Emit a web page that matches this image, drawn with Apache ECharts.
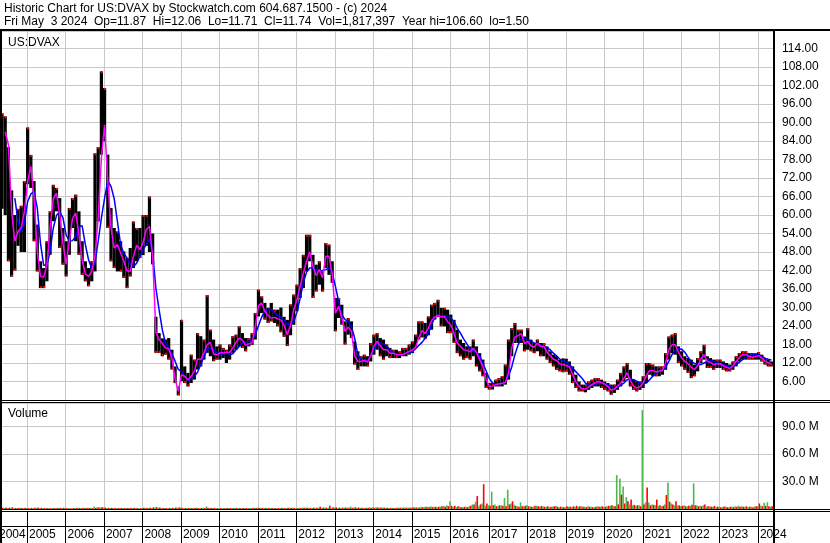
<!DOCTYPE html>
<html><head><meta charset="utf-8">
<script src="https://cdn.jsdelivr.net/npm/echarts/dist/echarts.min.js"></script>
<style>html,body{margin:0;padding:0;background:#fff}#c{width:830px;height:543px}</style>
</head><body><div id="c"></div>
<script>
// ---- data (monthly, first point = May 2004) ----
const T0 = 2004.35, T1 = 2024.392;
const years = [2004,2005,2006,2007,2008,2009,2010,2011,2012,2013,2014,2015,2016,2017,2018,2019,2020,2021,2022,2023,2024];
const priceHigh = [
93,92,82,68,60,62,63,71,88.4,79.5,
71,56.9,45,42.8,51.5,61.2,69.8,68.8,65.5,55.8,
51.5,62.3,65.5,66.6,61.2,51.5,45,42.8,45,80,
82,106.6,101.2,79.6,62.3,55.8,54.7,51.5,48.2,46.1,
49.3,57.9,55.8,55.8,60,60,66,54,27,21.7,
20,19.6,20.1,16.3,10.9,4.4,26,10.9,8.8,14.7,
13.1,21.7,20.7,19.6,34,22.8,19.6,17.4,18,16.9,
16.3,18,20.7,21.2,23.9,21.7,20.1,20.1,21.7,28.2,
35.8,33.6,31.5,29.9,31.5,29.3,29.3,30,27,26,
31,34.2,37.4,42.8,47.1,53.6,53.6,47.1,43.9,45,
41.7,50.9,50.4,45,33.1,33.1,30.9,25.5,26.6,25.5,
19,15.8,14.2,14.7,14.2,18.5,21.2,21.7,20.1,19.6,
18,16.9,16.3,16.3,15.8,16.9,16.9,18,19,21.2,
25.5,25.5,25,27.1,30.9,31.5,32.5,29.9,29.9,29.3,
27.7,26,22.8,19.6,18.5,17.4,17.4,19.6,17.4,15.2,
13.1,8.8,5.5,5.5,6.6,7.1,7.7,11.5,19.6,23.3,
25,22.8,22.8,20.6,23.3,19.6,18.5,19.6,18.5,18.5,
17.4,15.8,14.7,14.2,13.1,13.5,13.4,12.5,10.9,8.2,
6.0,5.0,5.0,6.0,6.6,7.1,7.1,6.6,6.0,5.5,
5.0,5.0,6.6,8.8,10.9,12.0,9.8,6.6,6.0,6.0,
7.7,12.0,12.0,11.5,10.9,10.9,10.9,15.2,20.6,21.2,
21.7,17.4,15.8,14.2,13.6,13.1,11.5,13.6,15.8,17.9,
14.2,13.6,13.1,13.1,13.1,12.5,12.0,11.5,12.5,14.2,
15.2,15.8,15.8,15.2,15.2,15.2,15.5,14.7,13.6,13.1,12.5];
const priceLow = [
62,60,45,40,42,50,48,48,70,68.8,
51.5,41.7,36.3,36.3,38.5,47.1,58,61.2,49.3,43.9,
40.1,47.1,55.8,51.5,47.1,40.6,38.5,36.9,38.5,41.7,
57.9,79.6,83.9,55.8,45,42.8,41.7,41.7,39.6,36.3,
40.1,42.8,45,46.1,47,50,48,44,15.3,15.3,
14.2,14.7,13.1,9.9,5.5,1.5,6.1,5.5,4.4,5.5,
6.6,9.9,10.9,13.1,15.3,14.2,12.6,13.1,13.1,13.6,
12.0,13.1,15.3,16.3,17.4,16.9,15.8,17.4,17.9,19.6,
27.1,28.2,26.1,25.0,25.5,25.0,23.9,22,20.5,17.5,
21,24.4,28.8,33.1,36.3,41.7,45,33.1,35.2,37.4,
35.2,42.8,40.6,38,22.3,26.6,24.4,18,21.2,20.1,
11.5,9.8,10.9,10.9,10.9,12.5,14.7,16.3,14.2,13.1,
14.2,13.6,13.6,13.6,13.6,14.2,14.2,14.7,15.2,16.9,
19.6,20.3,19.8,21,22.8,26.1,27.1,23.9,23.9,21.7,
21.7,18.5,15.2,14.2,13.1,13.6,13.1,14.2,10.9,9.3,
7.7,3.9,3.4,3.4,4.4,4.4,4.4,5.0,6.6,14.2,
18.5,18.5,18.5,15.8,16.3,15.8,15.2,15.8,14.2,14.2,
13.1,12.0,10.9,9.8,9.3,9.0,9.2,8.2,5.5,3.9,
2.8,2.8,2.5,3.3,3.9,4.4,4.4,3.9,3.3,2.8,
1.7,2.3,3.3,4.4,6.0,7.1,4.4,3.3,2.8,3.3,
3.9,5.5,8.2,7.7,7.7,7.7,8.2,9.8,13.1,15.2,
14.7,12.0,10.9,9.8,8.8,7.1,7.7,9.3,12.0,13.1,
10.4,10.4,9.8,10.4,10.4,9.8,9.3,9.3,9.8,10.9,
12.5,13.1,13.1,13.1,13.1,13.1,13.1,12.5,11.5,10.9,10.9];
const maShort = [
null,87,82.8,61.2,51.5,54.7,55.8,61.2,70.9,75.8,
65.5,48.2,40.1,39.8,43.9,55.8,65.3,67.1,60.1,50.9,
44.1,51.5,59.0,60.6,53.6,45.5,40.9,40.1,41.7,47,
59.0,78.5,89.3,70.9,55.8,49.3,50.4,47.7,45.0,41.9,
41.7,46.6,50.2,48.8,51,55.3,56.3,46.6,22.0,19.6,
18.3,16.9,16.6,13.6,6.8,2.8,8.2,7.7,6.5,7.7,
9.3,13.3,13.1,15.3,18.0,18.7,15.0,14.6,15.3,15.3,
15.5,15.5,16.9,18.7,20.1,19.4,17.7,18.2,18.5,23.7,
30.6,31.5,28.8,27.4,26.6,26.8,26.3,25.9,24.2,21.2,
24.2,29.3,32.5,36.9,41.2,45.0,48.0,43.3,40.4,42.3,
39.6,46.6,46.6,40.9,28.2,30.4,26.6,22.3,23.6,22.3,
14.2,12.5,12.5,12.9,12.3,14.2,17.4,19.0,17.6,16.3,
16.3,15.2,15.2,14.7,14.7,14.7,15.2,15.8,16.2,17.1,
20.1,22.5,21.5,23.3,25.8,26.9,27.5,26.9,27.1,25.4,
24.3,21.6,18.5,17.4,16.3,16.1,15.6,16.8,15.5,13.1,
10.9,6.6,4.4,4.5,5.0,5.2,5.4,5.7,8.8,16.9,
20.4,20.9,21.5,18.3,19.0,17.6,17.1,18.5,17.4,17.4,
15.5,14.4,13.2,12.8,11.7,11.5,11.2,10.7,8.4,5.8,
4.4,3.6,3.6,4.2,5.0,5.6,6.0,5.7,5.2,4.4,
3.2,3.5,4.5,5.5,7.1,8.8,6.3,4.5,3.9,4.3,
5.5,7.9,9.6,9.6,9.1,9.3,9.6,12.0,16.3,17.9,
17.9,15.5,13.6,12.5,11.7,10.7,9.8,11.1,13.3,14.7,
12.5,12.2,11.5,11.7,11.8,11.1,10.6,10.2,11.1,12.5,
13.8,14.7,14.7,14.2,13.9,14.0,14.4,13.6,12.6,12.1,11.7];
const maLong = [
null,null,null,null,65.5,57.9,54.4,57.4,64.4,66.8,
67.7,62.3,50.9,43.7,43.7,48.2,55.8,59.9,61.0,59.2,
53.6,51.5,51.7,53.1,56.3,56.5,50.4,45.5,42.6,44.4,
51.5,59.0,65.5,71.1,69.3,65.3,57.9,50.4,47.5,46.1,
44.1,43.3,44.4,46.6,48.8,50.4,52.3,47.7,36.3,29.3,
22.8,18.5,16.9,15.0,12.6,9.9,9.2,7.5,6.3,6.9,
7.7,9.0,11.5,14.0,16.3,16.9,16.3,15.3,14.9,14.9,
15.3,14.7,15.0,16.3,17.4,18.5,18.8,19.0,19.4,21.2,
24.1,26.9,28.8,29.5,29.3,28.2,27.5,26.8,25.8,24.5,
24.7,25.3,28.5,33.0,38.0,41.5,42.8,42.8,42.2,41.7,
42.0,42.3,42.8,41.2,36.9,32.0,27.7,26.1,25.5,23.9,
20.1,14.7,13.1,12.5,12.9,14.2,16.3,18.2,18.5,18.2,
17.5,16.3,15.3,14.9,14.7,14.9,15.2,15.2,15.7,16.6,
17.7,18.7,20.0,21.5,24.5,26.8,27.3,27.1,27.3,27.1,
26.6,25.5,23.3,21.7,19.8,18.2,16.5,15.9,15.3,14.4,
11.8,9.5,7.0,5.5,5.0,5.1,5.4,5.7,7.7,10.7,
14.7,17.9,19.8,20.1,19.5,19.0,18.5,18.2,17.9,17.4,
16.9,16.3,15.2,14.3,13.3,12.6,12.2,11.6,10.3,9.2,
8.1,7.0,5.5,4.8,4.8,5.1,5.5,5.4,5.2,4.9,
4.4,3.9,4.1,4.9,5.5,6.6,6.8,6.6,6.1,5.5,
5.3,5.5,6.6,7.7,8.6,9.3,9.8,10.7,12.5,14.7,
16.1,16.6,16.5,15.5,13.9,12.5,11.9,11.5,11.5,12.0,
12.5,12.8,12.5,12.0,11.7,11.5,11.2,10.9,10.9,11.5,
12.3,13.1,13.8,14.4,14.6,14.7,14.6,14.2,13.6,13.2,13.0];
// volume in millions: up-week and down-week peaks per month
const volUp = [
1.5,1.2,1.0,1.3,0.9,1.1,1.4,1.0,1.2,0.9,
1.1,1.3,1.0,0.8,1.2,1.0,1.1,0.9,1.3,1.0,
1.2,1.0,0.9,1.1,1.4,1.0,1.2,1.5,1.3,2.6,
2.2,1.8,1.5,1.2,1.0,1.1,0.9,1.2,1.0,1.1,
1.3,1.0,1.2,0.9,1.1,1.4,1.2,1.0,1.5,1.2,
1.0,1.1,0.9,1.0,1.2,1.4,1.8,1.1,1.0,1.3,
1.2,1.5,1.1,1.3,2.8,1.2,1.0,1.1,0.9,1.0,
1.2,1.0,1.1,1.3,1.0,0.9,1.1,1.2,1.0,1.4,
1.6,1.3,1.1,1.0,1.2,1.1,0.9,1.0,1.2,1.1,
1.3,1.5,1.2,1.4,1.6,1.5,1.3,1.2,1.1,1.3,
1.2,1.6,1.3,1.1,1.4,1.2,1.3,1.5,1.4,2.8,
1.6,1.4,1.2,1.3,1.5,1.8,2.2,1.9,1.5,1.4,
1.3,1.2,1.4,1.3,1.5,1.4,1.6,1.5,1.8,2.0,
2.0,2.5,2.0,2.5,3.0,2.5,2.0,2.5,3.5,4.0,
8.4,2.5,2.0,2.5,2.0,2.5,3.0,5.0,8.0,3.0,
6.0,3.5,4.0,19.0,5.0,3.5,4.0,12.0,21.0,6.0,
4.5,3.0,7.2,3.0,4.0,3.0,2.5,3.5,2.5,3.0,
2.5,2.0,2.5,3.3,2.0,2.5,2.0,2.5,2.0,2.5,
2.5,3.0,2.5,3.0,2.5,2.0,3.0,2.5,2.0,3.0,
3.5,3.3,37.0,33.0,24.6,13.0,5.0,4.0,3.5,4.0,
108.0,7.2,7.2,5.0,4.0,3.5,3.0,5.0,29.0,6.0,
4.0,3.5,3.0,4.0,3.0,3.5,28.0,4.0,3.5,4.0,
2.5,3.0,2.5,2.0,2.5,2.0,2.5,2.0,2.5,3.0,
3.7,3.0,2.5,2.0,2.5,2.5,3.0,3.5,6.7,7.4,2.5];
const volDown = [
1.3,1.6,1.4,1.8,1.2,1.0,1.1,1.3,1.0,1.2,
1.4,1.5,1.3,1.1,1.0,0.9,1.0,1.1,1.2,1.3,
1.1,0.9,1.0,1.2,1.1,1.3,1.0,1.1,0.9,1.2,
1.5,1.9,1.6,1.4,1.3,1.1,1.0,1.2,1.1,1.0,
1.1,1.2,1.0,1.1,1.3,1.2,1.4,1.8,2.0,1.5,
1.2,1.1,1.3,1.4,1.6,1.5,1.2,1.1,1.2,1.0,
1.1,1.0,1.2,1.0,1.3,1.1,1.2,1.0,1.1,0.9,
1.0,1.1,0.9,1.0,1.2,1.1,1.0,0.9,1.1,1.0,
1.2,1.1,1.3,1.2,1.0,1.1,1.2,1.3,1.1,1.4,
1.2,1.1,1.0,1.2,1.3,1.4,1.2,1.6,1.4,2.4,
1.5,1.3,3.6,1.8,2.0,1.5,1.4,1.6,1.3,1.2,
1.8,1.6,1.4,1.2,1.3,1.2,1.4,1.6,1.7,1.5,
1.4,1.3,1.2,1.4,1.3,1.5,1.4,1.3,1.5,1.6,
1.5,2.0,2.5,1.8,2.0,2.5,2.5,3.0,2.5,3.0,
3.5,3.5,3.0,2.0,2.5,2.0,3.5,5.0,14.2,5.0,
27.0,6.0,3.5,4.0,3.0,4.0,3.5,3.0,5.0,8.4,
3.5,2.5,3.0,3.5,3.0,2.5,3.5,3.0,3.3,2.5,
3.0,2.5,3.0,2.5,2.5,2.0,3.0,2.5,3.0,3.5,
3.0,2.5,2.0,2.5,2.0,2.5,2.5,3.0,2.5,3.5,
4.0,3.0,5.0,15.7,6.0,8.4,10.3,4.5,4.0,3.0,
5.0,23.4,4.0,4.5,10.3,4.0,3.5,15.3,8.0,5.0,
8.4,4.0,3.5,3.0,3.5,4.5,4.0,3.0,3.0,4.9,
3.0,2.5,3.3,2.5,2.0,2.6,2.0,2.5,2.0,2.5,
2.5,2.5,3.0,2.5,2.0,3.0,6.0,3.0,3.5,3.0,3.0];

// ---- chart ----
const FONT = '"Liberation Sans", Arial, sans-serif';
const tk = k => T0 + k / 12;
const barData = priceHigh.map((h, k) => [tk(k), h, priceLow[k],
  (k > 0 && maShort[k] != null && maShort[k - 1] != null && maShort[k] < maShort[k - 1]) ? 1 : 0]);
const shortData = maShort.map((v, k) => [tk(k), v]);
const longData = maLong.map((v, k) => [tk(k), v]);
const volData = volUp.map((u, k) => [tk(k), u, volDown[k]]);
const yearData = years.map(y => [y, 0]);

function gridLines(params, api) {
  const p = api.coord([api.value(0), 0]);
  const cs = params.coordSys;
  const x = Math.round(p[0]) + 0.5;
  return { type: 'line', shape: { x1: x, y1: cs.y, x2: x, y2: cs.y + cs.height },
    style: { stroke: '#c8c8c8', lineWidth: 1 } };
}

const chart = echarts.init(document.getElementById('c'), null, { renderer: 'canvas' });
chart.setOption({
  animation: false,
  backgroundColor: '#fff',
  grid: [
    { left: 2, width: 771, top: 31, height: 369 },
    { left: 2, width: 771, top: 403, height: 106 },
    { left: 2, width: 771, top: 511, height: 32 }
  ],
  xAxis: [0, 1, 2].map(i => ({ gridIndex: i, type: 'value', min: T0, max: T1, show: false })),
  yAxis: [
    { gridIndex: 0, type: 'value', position: 'right', min: 0, max: 119.7, interval: 6,
      axisLine: { show: false }, axisTick: { show: false },
      splitLine: { show: true, lineStyle: { color: '#c8c8c8', width: 1 } },
      axisLabel: { formatter: v => v === 0 ? '' : v.toFixed(2), color: '#000', fontFamily: FONT, fontSize: 12,
        margin: 9, showMinLabel: false, showMaxLabel: false } },
    { gridIndex: 1, type: 'value', position: 'right', min: 0, max: 115.6, interval: 30,
      axisLine: { show: false }, axisTick: { show: false },
      splitLine: { show: true, lineStyle: { color: '#c8c8c8', width: 1 } },
      axisLabel: { formatter: v => v === 0 ? '' : v.toFixed(1) + ' M', color: '#000', fontFamily: FONT, fontSize: 12,
        margin: 9, showMinLabel: false, showMaxLabel: false } },
    { gridIndex: 2, type: 'value', min: 0, max: 1, show: false }
  ],
  series: [
    { type: 'custom', xAxisIndex: 0, yAxisIndex: 0, data: yearData, z: 1, silent: true, renderItem: gridLines },
    { type: 'custom', xAxisIndex: 1, yAxisIndex: 1, data: yearData, z: 1, silent: true, renderItem: gridLines },
    { type: 'custom', xAxisIndex: 0, yAxisIndex: 0, data: barData, z: 3, silent: true, clip: true,
      renderItem(params, api) {
        const t = api.value(0), hi = api.value(1), lo = api.value(2), dn = api.value(3);
        const a = api.coord([t, hi]), b = api.coord([t, lo]);
        const w = 3.2, h = Math.max(1, b[1] - a[1]);
        const ty = dn ? b[1] - 2 : a[1];
        return { type: 'group', children: [
          { type: 'rect', shape: { x: a[0] - w / 2, y: a[1], width: w, height: h }, style: { fill: '#000' } },
          { type: 'rect', shape: { x: a[0] - 0.6, y: ty, width: 2, height: 2 }, style: { fill: '#ff0000' } }
        ] };
      } },
    { type: 'line', xAxisIndex: 0, yAxisIndex: 0, data: longData, z: 4, symbol: 'none', silent: true,
      lineStyle: { color: '#0000ff', width: 1.5 } },
    { type: 'line', xAxisIndex: 0, yAxisIndex: 0, data: shortData, z: 5, symbol: 'none', silent: true,
      lineStyle: { color: '#ff00ff', width: 1.5 } },
    { type: 'custom', xAxisIndex: 1, yAxisIndex: 1, data: volData, z: 3, silent: true, clip: true,
      renderItem(params, api) {
        const t = api.value(0);
        const base = api.coord([t, 0]), pu = api.coord([t, api.value(1)]), pd = api.coord([t, api.value(2)]);
        return { type: 'group', children: [
          { type: 'rect', shape: { x: base[0] - 1.6, y: pu[1], width: 1.6, height: base[1] - pu[1] }, style: { fill: '#4cb84c' } },
          { type: 'rect', shape: { x: base[0], y: pd[1], width: 1.6, height: base[1] - pd[1] }, style: { fill: '#ff0000' } }
        ] };
      } },
    { type: 'custom', xAxisIndex: 2, yAxisIndex: 2, data: yearData, z: 3, silent: true, clip: false,
      renderItem(params, api) {
        const yr = api.value(0);
        const p = api.coord([yr, 0]);
        const cs = params.coordSys;
        const x = Math.round(p[0]) + 0.5;
        return { type: 'group', children: [
          { type: 'line', shape: { x1: x, y1: cs.y, x2: x, y2: cs.y + cs.height }, style: { stroke: '#000', lineWidth: 1 } },
          { type: 'text', style: { text: String(yr), x: Math.max(p[0] + 2, -1), y: cs.y + 24, verticalAlign: 'middle',
            font: '12px ' + FONT, fill: '#000' } }
        ] };
      } }
  ],
  graphic: [
    { type: 'text', x: 4, y: 9, z: 10, style: { text: 'Historic Chart for US:DVAX by Stockwatch.com 604.687.1500 - (c) 2024',
      font: '12px ' + FONT, fill: '#000', verticalAlign: 'middle' } },
    { type: 'text', x: 4, y: 22, z: 10, style: { text: 'Fri May  3 2024  Op=11.87  Hi=12.06  Lo=11.71  Cl=11.74  Vol=1,817,397  Year hi=106.60  lo=1.50',
      font: '12px ' + FONT, fill: '#000', verticalAlign: 'middle' } },
    { type: 'text', x: 8, y: 43, z: 10, style: { text: 'US:DVAX', font: '12px ' + FONT, fill: '#000', verticalAlign: 'middle' } },
    { type: 'text', x: 8, y: 414, z: 10, style: { text: 'Volume', font: '12px ' + FONT, fill: '#000', verticalAlign: 'middle' } },
    { type: 'rect', z: 10, shape: { x: 0, y: 29, width: 830, height: 2 }, style: { fill: '#000' } },
    { type: 'rect', z: 10, shape: { x: 0, y: 31, width: 2, height: 512 }, style: { fill: '#000' } },
    { type: 'rect', z: 10, shape: { x: 773, y: 31, width: 2, height: 512 }, style: { fill: '#000' } },
    { type: 'rect', z: 10, shape: { x: 0, y: 400, width: 830, height: 1 }, style: { fill: '#000' } },
    { type: 'rect', z: 10, shape: { x: 0, y: 402, width: 830, height: 1 }, style: { fill: '#000' } },
    { type: 'rect', z: 10, shape: { x: 0, y: 509, width: 830, height: 1 }, style: { fill: '#000' } },
    { type: 'rect', z: 10, shape: { x: 0, y: 511, width: 830, height: 1 }, style: { fill: '#000' } },
    { type: 'rect', z: 10, shape: { x: 0, y: 526, width: 775, height: 1 }, style: { fill: '#000' } }
  ]
});
</script></body></html>
